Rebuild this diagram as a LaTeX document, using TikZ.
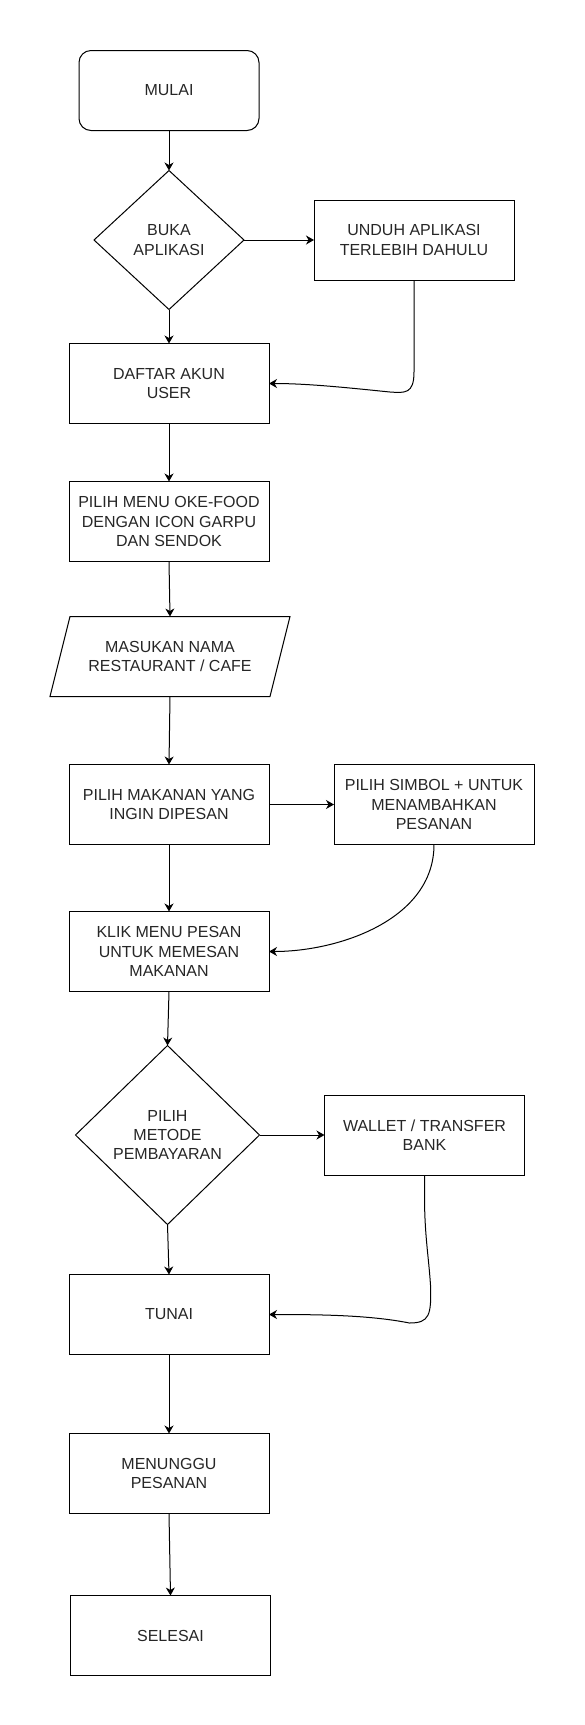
\documentclass[tikz,border=0pt]{standalone}
\usepackage{fontspec}
\setmainfont{Liberation Sans}
\usetikzlibrary{arrows.meta, positioning, shapes.geometric}

\begin{document}
\begin{tikzpicture}[
    x=1pt, y=-1pt,
    box/.style={
        rectangle, draw, line width=1pt, outer sep=0pt,
        minimum width=200pt,
        minimum height=80pt,
        align=center, text=black!85,
        font=\fontsize{16}{19.2}\selectfont
    },
    startbox/.style={box, rounded corners=12pt, minimum width=180pt},
    choice/.style={
        diamond, draw, line width=1pt, inner sep=0pt, outer sep=0pt,
        align=center, text=black!85,
        font=\fontsize{16}{19.2}\selectfont
    },
    arr/.style={-{Stealth[length=8pt, width=9pt, inset=2.5pt]}, line width=1pt}
]
    \useasboundingbox (0,0) rectangle (585,1725);

    \node[startbox] (mulai) at (169,90.5) {MULAI};
    \node[choice, minimum width=150pt, minimum height=139pt, below=40pt of mulai] (buka) {BUKA\\APLIKASI};
    \node[box, right=70pt of buka] (unduh) {UNDUH APLIKASI\\TERLEBIH DAHULU};
    \node[box, below=34pt of buka] (daftar) {DAFTAR AKUN\\USER};
    \node[box, below=58pt of daftar] (menu) {PILIH MENU OKE-FOOD\\DENGAN ICON GARPU\\DAN SENDOK};
    \node[box, draw=none, minimum width=220pt, below=55pt of menu, xshift=1pt] (masukan) {MASUKAN NAMA\\RESTAURANT / CAFE};
    \node[box, below=68pt of masukan, xshift=-1pt] (makanan) {PILIH MAKANAN YANG\\INGIN DIPESAN};
    \node[box, right=65pt of makanan] (simbol) {PILIH SIMBOL + UNTUK\\MENAMBAHKAN\\PESANAN};
    \node[box, below=67pt of makanan] (klik) {KLIK MENU PESAN\\UNTUK MEMESAN\\MAKANAN};
    \node[choice, minimum width=184pt, minimum height=179pt, below=54pt of klik, xshift=-1.5pt] (metode) {PILIH\\METODE\\PEMBAYARAN};
    \node[box, right=65pt of metode] (wallet) {WALLET / TRANSFER\\BANK};
    \node[box, below=50pt of metode, xshift=1.5pt] (tunai) {TUNAI};
    \node[box, below=79pt of tunai] (tunggu) {MENUNGGU\\PESANAN};
    \node[box, below=82pt of tunggu, xshift=1.5pt] (selesai) {SELESAI};

    \draw[line width=1pt] ([xshift=10pt]masukan.north west) -- ([xshift=10pt]masukan.north east)
        -- ([xshift=-10pt]masukan.south east) -- ([xshift=-10pt]masukan.south west) -- cycle;

    \draw[arr] (mulai) -- (buka);
    \draw[arr] (buka) -- (unduh);
    \draw[arr] (buka) -- (daftar);
    \draw[arr] (unduh.south) -- ++(0,92) .. controls +(0,22) and +(15,1) .. ++(-24,20)
        .. controls +(-40,-4) and +(40,0) .. (daftar.east);
    \draw[arr] (daftar) -- (menu);
    \draw[arr] (menu.south) -- (masukan.north);
    \draw[arr] (masukan.south) -- (makanan.north);
    \draw[arr] (makanan) -- (simbol);
    \draw[arr] (makanan) -- (klik);
    \draw[arr] (simbol.south) .. controls +(0,75) and +(70,0) .. (klik.east);
    \draw[arr] (klik.south) -- (metode.north);
    \draw[arr] (metode) -- (wallet);
    \draw[arr] (metode.south) -- (tunai.north);
    \draw[arr] (wallet.south) -- ++(0,20) .. controls +(0,40) and +(-2,-30) .. ++(6,90)
        .. controls +(1,30) and +(20,0) .. ++(-21,38)
        .. controls +(-40,-8) and +(50,0) .. (tunai.east);
    \draw[arr] (tunai) -- (tunggu);
    \draw[arr] (tunggu.south) -- (selesai.north);
\end{tikzpicture}
\end{document}
